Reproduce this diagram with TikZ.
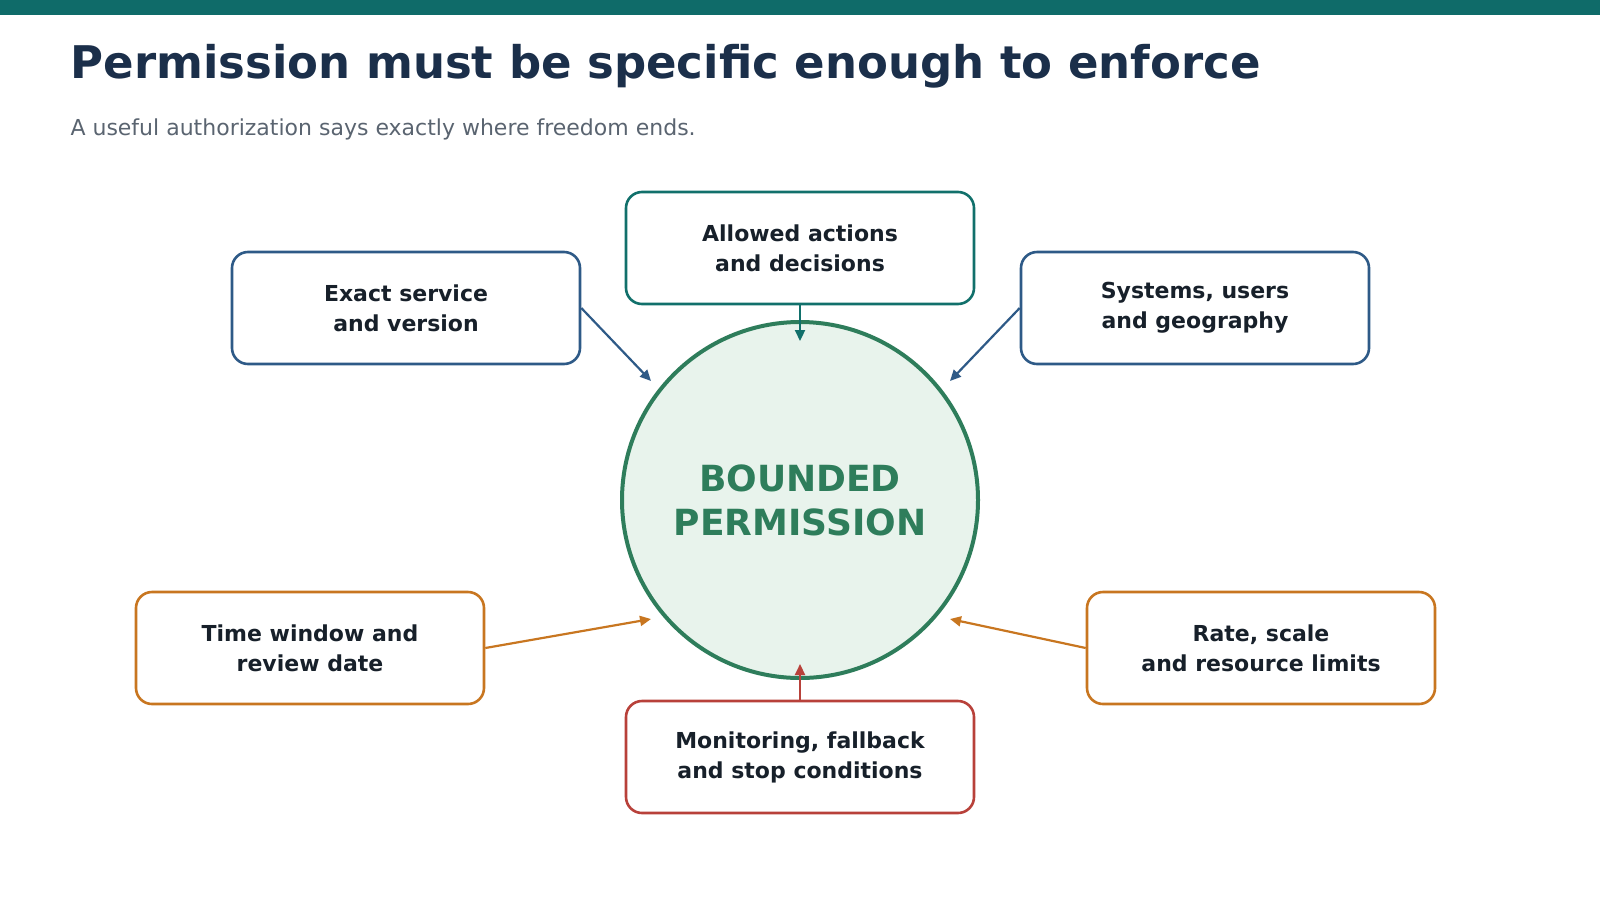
\documentclass[tikz,border=0pt]{standalone}
\usepackage{fontspec}
\setmainfont{DejaVu Sans}
\usetikzlibrary{arrows.meta}
\definecolor{bar}{HTML}{0F6B69}
\definecolor{cteal}{HTML}{11706B}
\definecolor{cblue}{HTML}{2E5A87}
\definecolor{corange}{HTML}{C87620}
\definecolor{cred}{HTML}{B8413A}
\definecolor{cgreen}{HTML}{2E7D5B}
\definecolor{cfill}{HTML}{E8F3EC}
\definecolor{ctitle}{HTML}{1B2F4A}
\definecolor{csub}{HTML}{5A6470}
\definecolor{ctext}{HTML}{17202A}
\begin{document}
\begin{tikzpicture}[x=1pt,y=-1pt,
 box/.style={draw,line width=2.6pt,rounded corners=16pt,minimum width=348pt,minimum height=112pt,fill=white,align=center,font=\fontsize{22}{30}\selectfont\bfseries,text=ctext},
 arr/.style={line width=2.2pt,-{Triangle[length=11pt,width=10pt]}}]
\useasboundingbox (0,0) rectangle (1600,900);
\fill[bar] (0,0) rectangle (1600,15);
\node[anchor=west,text=ctitle,font=\fontsize{45}{50}\selectfont\bfseries] (title) at (67,66) {Permission must be specific enough to enforce};
\node[anchor=west,text=csub,font=\fontsize{22}{26}\selectfont] (sub) at (67,129) {A useful authorization says exactly where freedom ends.};
\node[circle,draw=cgreen,fill=cfill,line width=4pt,minimum size=356pt,align=center,text=cgreen,font=\fontsize{36}{44}\selectfont\bfseries] (c) at (800,500) {BOUNDED\\PERMISSION};
\node[box,draw=cteal] (a) at (800,248) {Allowed actions\\and decisions};
\node[box,draw=cblue] (e) at (406,308) {Exact service\\and version};
\node[box,draw=cblue] (s) at (1195,308) {Systems, users\\and geography};
\node[box,draw=corange] (t) at (310,648) {Time window and\\review date};
\node[box,draw=corange] (r) at (1261,648) {Rate, scale\\and resource limits};
\node[box,draw=cred] (m) at (800,757) {Monitoring, fallback\\and stop conditions};
\coordinate (ca) at (800,341);
\coordinate (ce) at (651,381);
\coordinate (cs) at (950,381);
\coordinate (ct) at (651,619);
\coordinate (cr) at (950,619);
\coordinate (cm) at (800,664);
\draw[arr,cteal] (a.south) -- (ca);
\draw[arr,cblue] (e.east) -- (ce);
\draw[arr,cblue] (s.west) -- (cs);
\draw[arr,corange] (t.east) -- (ct);
\draw[arr,corange] (r.west) -- (cr);
\draw[arr,cred] (m.north) -- (cm);
\end{tikzpicture}
\end{document}
